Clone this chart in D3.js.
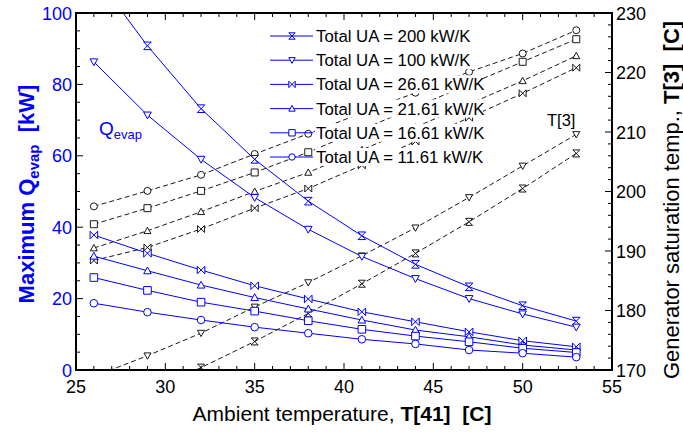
<!DOCTYPE html>
<html><head><meta charset="utf-8">
<script src="https://cdn.jsdelivr.net/npm/d3@7"></script>
<style>body{margin:0;background:#fff;} svg{display:block;font-family:"Liberation Sans",Arial,sans-serif;}</style>
</head><body>
<svg id="c" width="683" height="433"></svg>
<script>
// ---- data ----
const ambient = [26, 29, 32, 35, 38, 41, 44, 47, 50, 53];
const uaLabels = ["Total UA = 200 kW/K","Total UA = 100 kW/K","Total UA = 26.61 kW/K","Total UA = 21.61 kW/K","Total UA = 16.61 kW/K","Total UA = 11.61 kW/K"];
const uaMarkers = ["hourglass","triDown","bowtie","triUp","square","circle"];
// Q_evap [kW]
const q200   = [111, 90.8, 73.2, 59.0, 47.3, 37.6, 29.6, 23.3, 18.0, 13.7];
const q100   = [86.3, 71.4, 59.0, 48.3, 39.4, 31.8, 25.6, 20.0, 15.7, 12.0];
const q2661  = [37.8, 32.7, 28.0, 23.6, 19.9, 16.3, 13.5, 10.7, 8.2, 6.5];
const q2161  = [31.9, 27.8, 23.8, 20.3, 17.1, 14.0, 11.2, 9.3, 7.0, 5.6];
const q1661  = [25.9, 22.3, 19.0, 16.5, 13.8, 11.4, 9.5, 7.9, 6.1, 4.9];
const q1161  = [18.7, 16.2, 14.0, 12.0, 10.3, 8.6, 7.3, 5.6, 4.7, 3.6];
// T[3] [C]
const t200   = [162.5, 166.4, 170.4, 174.8, 179.5, 184.5, 189.6, 194.9, 200.5, 206.4];
const t100   = [168.9, 172.4, 176.2, 180.6, 184.7, 189.2, 193.9, 199.0, 204.3, 209.6];
const t2661  = [188.4, 190.6, 193.7, 197.2, 200.5, 204.4, 208.4, 212.4, 216.5, 220.8];
const t2161  = [190.5, 193.4, 196.6, 200.0, 203.2, 207.0, 210.8, 214.7, 218.6, 222.8];
const t1661  = [194.5, 197.2, 200.1, 203.2, 206.6, 210.4, 214.2, 218.0, 221.8, 225.6];
const t1161  = [197.5, 200.1, 202.8, 206.3, 209.7, 213.2, 216.6, 220.1, 223.2, 227.1];
const xTicks = [25, 30, 35, 40, 45, 50, 55];
const yTicks = [0, 20, 40, 60, 80, 100];
const y2Ticks = [170, 180, 190, 200, 210, 220, 230];

const qSeries = [q200, q100, q2661, q2161, q1661, q1161];
const tSeries = [t200, t100, t2661, t2161, t1661, t1161];

// ---- layout ----
const L = 76, R = 612, T = 13, B = 370;
const blue = "#0000ff";
const svg = d3.select("#c");
const x = d3.scaleLinear().domain([25, 55]).range([L, R]);
const y = d3.scaleLinear().domain([0, 100]).range([B, T]);
const y2 = d3.scaleLinear().domain([170, 230]).range([B, T]);

svg.append("defs").append("clipPath").attr("id","clip")
  .append("rect").attr("x",L).attr("y",T).attr("width",R-L).attr("height",B-T);

function markerPath(type, s) {
  switch (type) {
    case "hourglass": return `M${-s},${-s}L${s},${-s}L${-s},${s}L${s},${s}Z`;
    case "bowtie": return `M${-s},${-s}L${s},${s}L${s},${-s}L${-s},${s}Z`;
    case "triDown": return `M${-s},${-s*0.8}L${s},${-s*0.8}L0,${s}Z`;
    case "triUp": return `M${-s},${s*0.8}L${s},${s*0.8}L0,${-s}Z`;
    case "square": return `M${-s},${-s}L${s},${-s}L${s},${s}L${-s},${s}Z`;
    case "circle": return d3.symbol(d3.symbolCircle, Math.PI*s*s)();
  }
}

const plot = svg.append("g").attr("clip-path","url(#clip)");

// T[3] dashed lines
tSeries.forEach((s, i) => {
  const pts = ambient.map((a, j) => [x(a), y2(s[j])]);
  plot.append("path").attr("d", d3.line()(pts)).attr("fill","none")
    .attr("stroke","#000").attr("stroke-width",0.9).attr("stroke-dasharray","5,3");
  plot.selectAll(null).data(pts).enter().append("path")
    .attr("transform", d => `translate(${d[0]},${d[1]})`)
    .attr("d", markerPath(uaMarkers[i], 3.5))
    .attr("fill","#fff").attr("stroke","#000").attr("stroke-width",0.9);
});

// Q lines
qSeries.forEach((s, i) => {
  const pts = ambient.map((a, j) => [x(a), y(s[j])]);
  plot.append("path").attr("d", d3.line()(pts)).attr("fill","none")
    .attr("stroke",blue).attr("stroke-width",1);
  plot.selectAll(null).data(pts).enter().append("path")
    .attr("transform", d => `translate(${d[0]},${d[1]})`)
    .attr("d", markerPath(uaMarkers[i], 3.8))
    .attr("fill","#fff").attr("stroke",blue).attr("stroke-width",1);
});

// frame
svg.append("rect").attr("x",L).attr("y",T).attr("width",R-L).attr("height",B-T)
  .attr("fill","none").attr("stroke","#000").attr("stroke-width",2);

// ticks (inside)
const ax = svg.append("g");
d3.range(25, 56, 1).forEach(v => {
  const len = v % 5 === 0 ? 7 : 4;
  ax.append("line").attr("x1",x(v)).attr("x2",x(v)).attr("y1",B).attr("y2",B-len).attr("stroke","#000");
  ax.append("line").attr("x1",x(v)).attr("x2",x(v)).attr("y1",T).attr("y2",T+len).attr("stroke","#000");
});
d3.range(0, 101, 5).forEach(v => {
  const len = v % 20 === 0 ? 7 : 4;
  ax.append("line").attr("x1",L).attr("x2",L+len).attr("y1",y(v)).attr("y2",y(v)).attr("stroke","#000");
});
d3.range(170, 231, 2).forEach(v => {
  const len = v % 10 === 0 ? 7 : 4;
  ax.append("line").attr("x1",R).attr("x2",R-len).attr("y1",y2(v)).attr("y2",y2(v)).attr("stroke","#000");
});

// tick labels
ax.selectAll(null).data(xTicks).enter().append("text")
  .attr("x", d => x(d)).attr("y", 393).attr("text-anchor","middle")
  .attr("font-size",18).attr("fill","#000").text(d => d);
ax.selectAll(null).data(yTicks).enter().append("text")
  .attr("x", 72).attr("y", d => y(d) + 6.5).attr("text-anchor","end")
  .attr("font-size",18).attr("fill",blue).text(d => d);
ax.selectAll(null).data(y2Ticks).enter().append("text")
  .attr("x", 616).attr("y", d => y2(d) + 6.5).attr("text-anchor","start")
  .attr("font-size",18).attr("fill","#000").text(d => d);

// axis titles
const xt = svg.append("text").attr("x", 342).attr("y", 421).attr("text-anchor","middle")
  .attr("font-size",21).attr("fill","#000");
xt.append("tspan").text("Ambient temperature, ");
xt.append("tspan").attr("font-weight","bold").text("T[41]\u00a0\u00a0[C]");

const yt = svg.append("text").attr("transform","translate(34,194) rotate(-90)")
  .attr("text-anchor","middle").attr("font-size",22).attr("font-weight","bold").attr("fill",blue);
yt.append("tspan").text("Maximum Q");
yt.append("tspan").attr("font-size",15).attr("dy",5).text("evap");
yt.append("tspan").attr("dy",-5).text("\u00a0\u00a0[kW]");

const y2t = svg.append("text").attr("transform","translate(679,200) rotate(-90)")
  .attr("text-anchor","middle").attr("font-size",22).attr("fill","#000");
y2t.append("tspan").text("Generator saturation temp., ");
y2t.append("tspan").attr("font-weight","bold").text("T[3]\u00a0\u00a0[C]");

// annotations
const qa = svg.append("text").attr("x",99).attr("y",135).attr("font-size",19).attr("fill",blue);
qa.append("tspan").text("Q");
qa.append("tspan").attr("font-size",13).attr("dy",4).text("evap");
svg.append("text").attr("x",547).attr("y",126).attr("font-size",16.5).attr("fill","#000").text("T[3]");

// legend
const lg = svg.append("g");
uaLabels.forEach((lab, i) => {
  const cy = 36 + i * 24.2;
  lg.append("rect").attr("x",315).attr("y",cy-9).attr("width", [158,158,168,168,168,168][i]).attr("height",18).attr("fill","#fff");
  lg.append("line").attr("x1",270).attr("x2",313).attr("y1",cy).attr("y2",cy).attr("stroke",blue).attr("stroke-width",1);
  lg.append("path").attr("transform",`translate(292,${cy})`).attr("d", markerPath(uaMarkers[i], 3.2))
    .attr("fill","#fff").attr("stroke",blue);
  lg.append("text").attr("x",316).attr("y",cy+6).attr("font-size",16.8).attr("fill","#000").text(lab);
});
</script>
</body></html>
